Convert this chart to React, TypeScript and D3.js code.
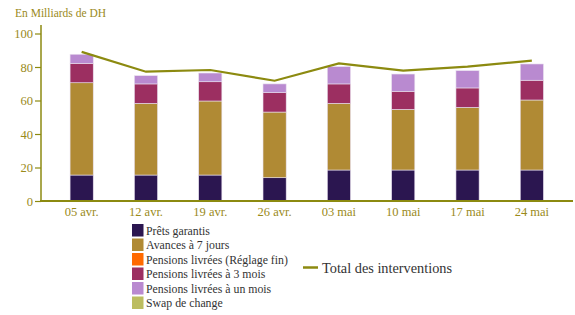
import React, { useEffect, useRef } from 'react';
import * as d3 from 'd3';

const categories = ['05 avr.', '12 avr.', '19 avr.', '26 avr.', '03 mai', '10 mai', '17 mai', '24 mai'];

const pretsGarantis = [15.5, 15.5, 15.5, 13.9, 18.5, 18.5, 18.5, 18.5];
const avances7j = [55.1, 42.8, 44.2, 39.2, 39.8, 36.2, 37.4, 41.8];
const reglageFin = [0, 0, 0, 0, 0, 0, 0, 0];
const pensions3m = [11.6, 11.6, 11.5, 11.6, 11.6, 10.8, 11.6, 11.8];
const pensions1m = [5.4, 4.9, 5.2, 5.2, 10.3, 10.3, 10.3, 9.7];
const swapChange = [0, 0, 0, 0, 0, 0, 0, 0];
const totalInterventions = [89, 77.2, 78.2, 71.8, 82.2, 77.8, 80.2, 83.8];

const yTicks = [0, 20, 40, 60, 80, 100];

const seriesNames = [
  'Prêts garantis',
  'Avances à 7 jours',
  'Pensions livrées (Réglage fin)',
  'Pensions livrées à 3 mois',
  'Pensions livrées à un mois',
  'Swap de change',
];
const seriesColors = ['#2b1650', '#b08a34', '#ff6a00', '#9c2f61', '#b98ad0', '#bcbd60'];

const olive = '#8c8a10';
const font = 'Liberation Serif, DejaVu Serif, serif';

export default function App() {
  const svgRef = useRef<SVGSVGElement>(null);

  useEffect(() => {
    if (!svgRef.current) return;
    const svg = d3.select(svgRef.current);
    svg.selectAll('*').remove();

    const seriesValues = [pretsGarantis, avances7j, reglageFin, pensions3m, pensions1m, swapChange];
    const rows = categories.map((c, i) => {
      const r: any = { cat: c };
      seriesNames.forEach((n, k) => (r[n] = seriesValues[k][i]));
      return r;
    });

    const x = d3.scaleBand().domain(categories).range([49.5, 564]).paddingInner(0.64).paddingOuter(0.32);
    const y = d3.scaleLinear().domain([0, 100]).range([201, 33.5]);

    const stack = d3.stack<any>().keys(seriesNames);
    const layers = stack(rows);

    // bars
    svg.append('g')
      .selectAll('g')
      .data(layers)
      .enter()
      .append('g')
      .attr('fill', (_, i) => seriesColors[i])
      .selectAll('rect')
      .data(d => d)
      .enter()
      .append('rect')
      .attr('x', d => x(d.data.cat) || 0)
      .attr('width', x.bandwidth())
      .attr('y', d => y(d[1]))
      .attr('height', d => Math.max(0, y(d[0]) - y(d[1])))
      .attr('stroke', d => (d[1] - d[0] > 0 ? '#e8e0ee' : 'none'))
      .attr('stroke-width', 0.6);

    // total line
    const line = d3.line<number>()
      .x((_, i) => (x(categories[i]) || 0) + x.bandwidth() / 2)
      .y(d => y(d));
    svg.append('path')
      .datum(totalInterventions)
      .attr('d', line)
      .attr('fill', 'none')
      .attr('stroke', olive)
      .attr('stroke-width', 2.2);

    // y axis
    const yAxis = svg.append('g')
      .attr('transform', 'translate(41,0)')
      .call(d3.axisLeft(y).tickValues(yTicks).tickSize(6).tickSizeOuter(0));
    yAxis.attr('font-family', font).attr('font-size', 12.5);
    yAxis.select('.domain').attr('stroke', olive).attr('stroke-width', 1.5).attr('d', 'M0,25V201');
    yAxis.selectAll('.tick line').attr('stroke', olive).attr('stroke-width', 1.2);
    yAxis.selectAll('.tick text').attr('fill', '#9a8a1a').attr('x', -8);

    // x axis
    const xAxis = svg.append('g')
      .attr('transform', 'translate(0,201)')
      .call(d3.axisBottom(x).tickSize(0).tickSizeOuter(0));
    xAxis.attr('font-family', font).attr('font-size', 12.5);
    xAxis.select('.domain').attr('stroke', olive).attr('stroke-width', 2.2).attr('d', 'M40,0H573');
    xAxis.selectAll('.tick text').attr('fill', '#9a8a1a').attr('y', 6);

    svg.append('text')
      .attr('x', 15)
      .attr('y', 17)
      .attr('fill', '#9a8a1a')
      .attr('font-family', font)
      .attr('font-size', 11.5)
      .text('En Milliards de DH');

    // legend
    const legend = svg.append('g').attr('transform', 'translate(132,224)');
    seriesNames.forEach((n, i) => {
      const g = legend.append('g').attr('transform', `translate(0,${i * 14.5})`);
      g.append('rect').attr('width', 11.5).attr('height', 12.5).attr('fill', seriesColors[i]);
      g.append('text')
        .attr('x', 14)
        .attr('y', 10.5)
        .attr('fill', '#333')
        .attr('font-family', font)
        .attr('font-size', 11.8)
        .text(n);
    });

    svg.append('line')
      .attr('x1', 303).attr('x2', 318)
      .attr('y1', 267.5).attr('y2', 267.5)
      .attr('stroke', olive)
      .attr('stroke-width', 2.5);
    svg.append('text')
      .attr('x', 322)
      .attr('y', 272.5)
      .attr('fill', '#333')
      .attr('font-family', font)
      .attr('font-size', 14.3)
      .text('Total des interventions');
  }, []);

  return (
    <svg
      ref={svgRef}
      width={575}
      height={315}
      style={{ position: 'absolute', left: 0, top: 0, background: '#fff' }}
    />
  );
}
